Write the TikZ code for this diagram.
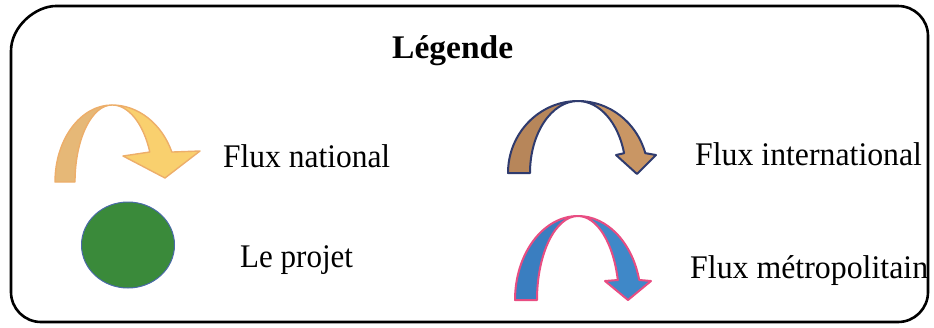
\documentclass[tikz,border=0pt]{standalone}
\usepackage{fontspec}
\setmainfont{Liberation Serif}
\definecolor{yback}{HTML}{E6B877}
\definecolor{yfront}{HTML}{F9D06E}
\definecolor{yline}{HTML}{EDAE6A}
\definecolor{bback}{HTML}{B7865A}
\definecolor{bfront}{HTML}{C99664}
\definecolor{bline}{HTML}{2F3B6E}
\definecolor{lback}{HTML}{3A7EC0}
\definecolor{lfront}{HTML}{3F88C8}
\definecolor{lline}{HTML}{E84D82}
\definecolor{gfill}{HTML}{3A8A3A}
\definecolor{gline}{HTML}{4A6AA8}
\begin{document}
\begin{tikzpicture}[x=1pt,y=-1pt,
  txt/.style={anchor=base west,inner sep=0pt,font=\fontsize{33}{40}\selectfont},
  frame/.style={line width=2.6pt,line join=round},
  yarrow/.style={draw=yline,line width=1.4pt,line join=round},
  barrow/.style={draw=bline,line width=2pt,line join=round},
  larrow/.style={draw=lline,line width=2pt,line join=round}]
\useasboundingbox (0,0) rectangle (934,327);
% frame
\draw[frame] (11,51) .. controls (11,26.2) and (35.8,6) .. (56,6) -- (898,6)
  .. controls (914.6,6) and (928,19.4) .. (928,36) -- (928,292)
  .. controls (928,308.6) and (914.6,322) .. (898,322) -- (41,322)
  .. controls (24.4,322) and (11,308.6) .. (11,292) -- cycle;
% title
\node[txt,font=\fontsize{33}{40}\selectfont\bfseries] (title) at (392,58) {\scalebox{1.015}[1]{Légende}};
% yellow arrow (national)
\filldraw[yarrow,fill=yback] (55,182) arc[start angle=180,end angle=270,x radius=57,y radius=77]
  arc[start angle=270,end angle=180,x radius=37,y radius=77] -- cycle;
\filldraw[yarrow,fill=yfront] (112,105) arc[start angle=270,end angle=337.1,x radius=65,y radius=77]
  -- (200,151) -- (165,178) -- (123,156) -- (149.8,152)
  arc[start angle=337.1,end angle=270,x radius=41,y radius=77] -- cycle;
% brown arrow (international)
\filldraw[barrow,fill=bback] (508,173) arc[start angle=180,end angle=270,x radius=70,y radius=72]
  arc[start angle=270,end angle=180,x radius=48,y radius=72] -- cycle;
\filldraw[barrow,fill=bfront] (578,101) arc[start angle=270,end angle=344,x radius=70,y radius=72]
  -- (656,155) -- (637,174) -- (616,155) -- (624.1,153.2)
  arc[start angle=344,end angle=270,x radius=48,y radius=72] -- cycle;
% blue arrow (metropolitan)
\filldraw[larrow,fill=lback] (515,300) arc[start angle=180,end angle=270,x radius=63,y radius=84]
  arc[start angle=270,end angle=180,x radius=41,y radius=84] -- cycle;
\filldraw[larrow,fill=lfront] (578,216) arc[start angle=270,end angle=346.2,x radius=63,y radius=84]
  -- (651,281) -- (628,300) -- (605,281) -- (617.8,280)
  arc[start angle=346.2,end angle=270,x radius=41,y radius=84] -- cycle;
% green disc (project)
\filldraw[draw=gline,fill=gfill,line width=1pt] (128,245) ellipse[x radius=46.5,y radius=43];
% labels
\node[txt] (l1) at (223,167) {\scalebox{0.954}[1]{Flux national}};
\node[txt] (l2) at (695,165) {\scalebox{0.963}[1]{Flux international}};
\node[txt] (l3) at (240,267) {\scalebox{0.94}[1]{Le projet}};
\node[txt] (l4) at (690,278) {\scalebox{0.965}[1]{Flux métropolitain}};
\end{tikzpicture}
\end{document}
